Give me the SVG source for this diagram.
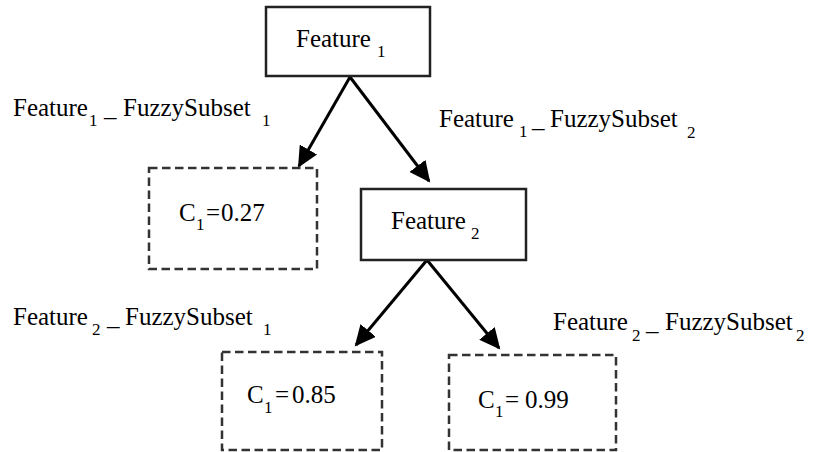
<svg xmlns="http://www.w3.org/2000/svg" width="814" height="452" viewBox="0 0 814 452">
<style>
  .solid { fill: #fff; stroke: #222; stroke-width: 2.5; }
  .dash { fill: none; stroke: #333; stroke-width: 2.5; stroke-dasharray: 8.5 4.5; }
  .edge { stroke: #000; stroke-width: 3; fill: none; marker-end: url(#arrow); }
  .t { font-family: 'Liberation Serif', 'DejaVu Serif', 'Noto Serif', Times, serif; font-size: 25px; fill: #000; }
  .sub { font-size: 17px; }
</style>
<defs>
  <marker id="arrow" markerUnits="userSpaceOnUse" markerWidth="22" markerHeight="20" refX="19" refY="10" orient="auto">
    <path d="M0,0 L21,10 L0,20 z" fill="#000"/>
  </marker>
</defs>
<rect width="814" height="452" fill="#fff"/>
<g id="connectors">
  <line class="edge" x1="350" y1="77" x2="299" y2="166"/>
  <line class="edge" x1="350" y1="77" x2="429" y2="181"/>
  <line class="edge" x1="427" y1="260" x2="356" y2="345"/>
  <line class="edge" x1="427" y1="260" x2="499" y2="348"/>
</g>
<g id="feature1">
  <rect class="solid" x="266" y="7" width="164" height="69"/>
  <text class="t" x="296" y="47">Feature<tspan class="sub" x="377" y="57">1</tspan></text>
</g>
<g id="leaf1">
  <rect class="dash" x="149" y="168" width="168" height="101"/>
  <text class="t" x="179" y="221">C<tspan class="sub" x="196" y="230">1</tspan><tspan x="206" y="221">=</tspan><tspan x="221" y="221">0.27</tspan></text>
</g>
<g id="feature2">
  <rect class="solid" x="361" y="189" width="165" height="71"/>
  <text class="t" x="391" y="229">Feature<tspan class="sub" x="471" y="239">2</tspan></text>
</g>
<g id="leaf2">
  <rect class="dash" x="222" y="352" width="160" height="98"/>
  <text class="t" x="247" y="403">C<tspan class="sub" x="264" y="413">1</tspan><tspan x="275" y="403">=</tspan><tspan x="292" y="403">0.85</tspan></text>
</g>
<g id="leaf3">
  <rect class="dash" x="449" y="355" width="167" height="95"/>
  <text class="t" x="478" y="408">C<tspan class="sub" x="495" y="417">1</tspan><tspan x="505" y="408">=</tspan><tspan x="525" y="408">0.99</tspan></text>
</g>
<g id="labels">
  <text class="t" x="13" y="116">Feature<tspan class="sub" x="89" y="126">1</tspan><tspan x="104" y="116">_</tspan><tspan x="123" y="116">FuzzySubset</tspan><tspan class="sub" x="262" y="126">1</tspan></text>
  <text class="t" x="439" y="127">Feature<tspan class="sub" x="519" y="137">1</tspan><tspan x="532" y="127">_</tspan><tspan x="550" y="127">FuzzySubset</tspan><tspan class="sub" x="687" y="138">2</tspan></text>
  <text class="t" x="13" y="325">Feature<tspan class="sub" x="92" y="335">2</tspan><tspan x="107" y="325">_</tspan><tspan x="125" y="325">FuzzySubset</tspan><tspan class="sub" x="263" y="335">1</tspan></text>
  <text class="t" x="553" y="330">Feature<tspan class="sub" x="632" y="341">2</tspan><tspan x="646" y="330">_</tspan><tspan x="665" y="330">FuzzySubset</tspan><tspan class="sub" x="796" y="341">2</tspan></text>
</g>
</svg>
